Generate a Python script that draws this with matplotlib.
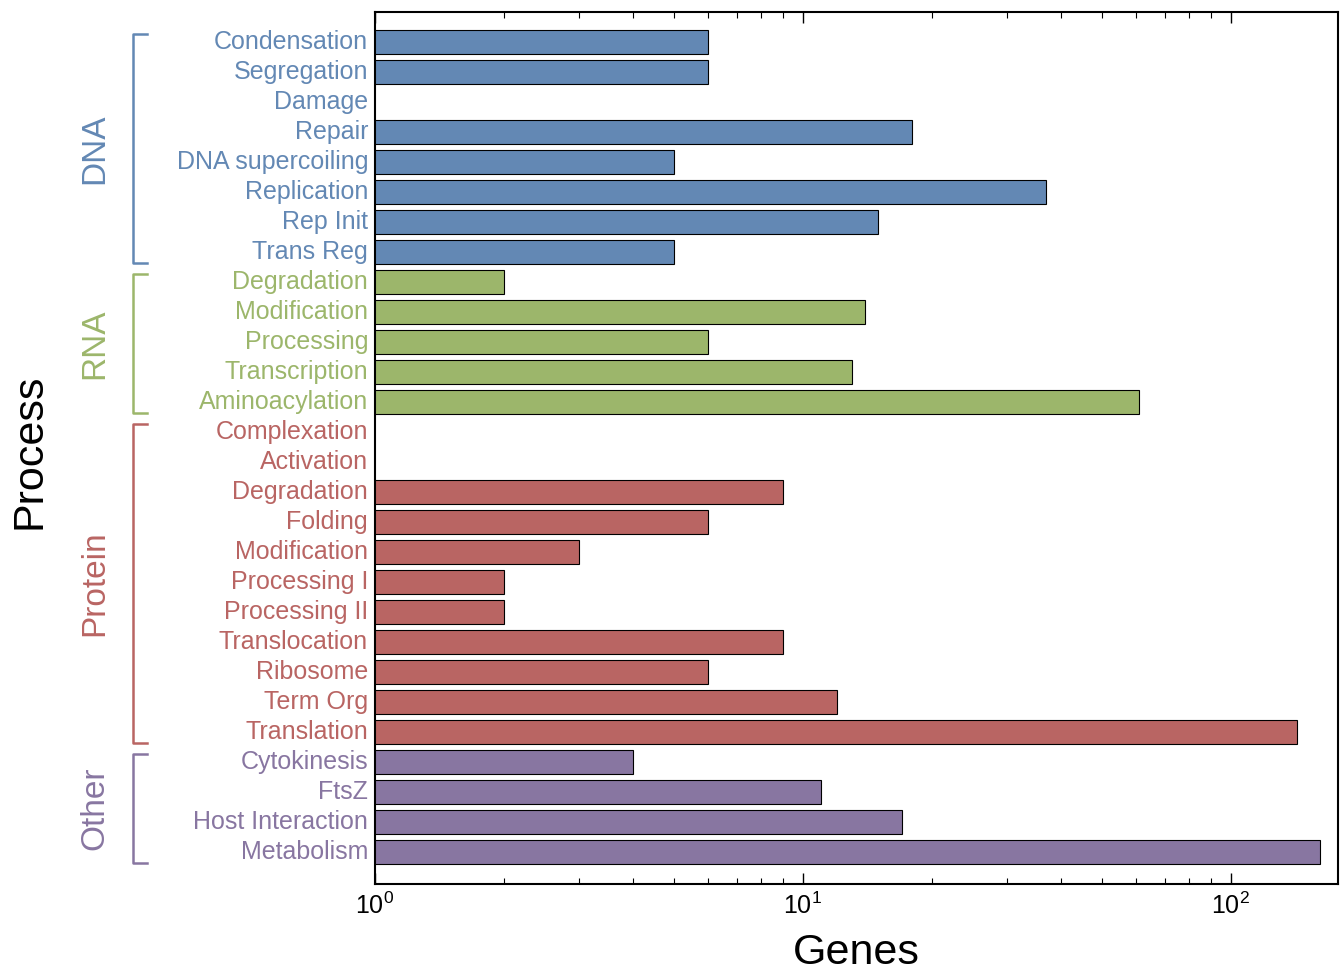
import matplotlib
matplotlib.use('Agg')
import matplotlib.pyplot as plt
import matplotlib.transforms as mtransforms

plt.rcParams['font.family'] = ['Liberation Sans', 'DejaVu Sans']
plt.rcParams['mathtext.default'] = 'regular'

# data
dna_labels = ['Condensation', 'Segregation', 'Damage', 'Repair', 'DNA supercoiling',
              'Replication', 'Rep Init', 'Trans Reg']
dna_genes = [6, 6, 0, 18, 5, 37, 15, 5]
rna_labels = ['Degradation', 'Modification', 'Processing', 'Transcription', 'Aminoacylation']
rna_genes = [2, 14, 6, 13, 61]
protein_labels = ['Complexation', 'Activation', 'Degradation', 'Folding', 'Modification',
                  'Processing I', 'Processing II', 'Translocation', 'Ribosome', 'Term Org',
                  'Translation']
protein_genes = [0, 0, 9, 6, 3, 2, 2, 9, 6, 12, 143]
other_labels = ['Cytokinesis', 'FtsZ', 'Host Interaction', 'Metabolism']
other_genes = [4, 11, 17, 162]

groups = ['DNA', 'RNA', 'Protein', 'Other']
group_colors = ['#6388b4', '#9cb66b', '#b96563', '#8876a1']

all_labels = [dna_labels, rna_labels, protein_labels, other_labels]
all_genes = [dna_genes, rna_genes, protein_genes, other_genes]

fig = plt.figure(figsize=(13.4, 9.73), dpi=100)
ax = fig.add_axes([375 / 1340, 1 - 884 / 973, 963 / 1340, 872 / 973])
ax.set_xscale('log')

labels, colors, values = [], [], []
for lab, val, c in zip(all_labels, all_genes, group_colors):
    labels += lab
    values += val
    colors += [c] * len(lab)

ypos = list(range(len(labels)))
for y, v, c in zip(ypos, values, colors):
    if v > 0:  # zero rows have no bar on a log axis
        ax.barh(y, v, height=0.8, color=c, edgecolor='black', linewidth=0.8)

ax.set_xlim(1, 178)
ax.set_ylim(len(labels) - 1 + 1.07, -1)
ax.set_yticks(ypos)
ax.set_yticklabels(labels, fontsize=18, va='center')
for t, c in zip(ax.get_yticklabels(), colors):
    t.set_color(c)
ax.tick_params(axis='y', length=0, pad=5)
ax.tick_params(axis='x', which='both', direction='in', top=True, labelsize=18, pad=6)
ax.tick_params(axis='x', which='major', length=8, width=1)
ax.tick_params(axis='x', which='minor', length=4, width=0.8)
for s in ax.spines.values():
    s.set_linewidth(1.5)

ax.set_xlabel('Genes', fontsize=31, labelpad=10)
fig.text(30 / 1340, 1 - 451 / 973, 'Process', fontsize=31, rotation=90,
         ha='center', va='center')

# group brackets
trans = mtransforms.blended_transform_factory(ax.transAxes, ax.transData)
xv = (133 - 375) / 963
xh = (147 - 375) / 963
start = 0
for g, lab, c in zip(groups, all_labels, group_colors):
    y0 = start - 0.27
    y1 = start + len(lab) - 1 + 0.37
    ax.plot([xh, xv, xv, xh], [y0, y0, y1, y1], color=c, lw=1.8,
            transform=trans, clip_on=False)
    ax.text((95 - 375) / 963, (y0 + y1) / 2, g, color=c, fontsize=24, rotation=90,
            ha='center', va='center', transform=trans)
    start += len(lab)

fig.savefig('out.png', dpi=100)
